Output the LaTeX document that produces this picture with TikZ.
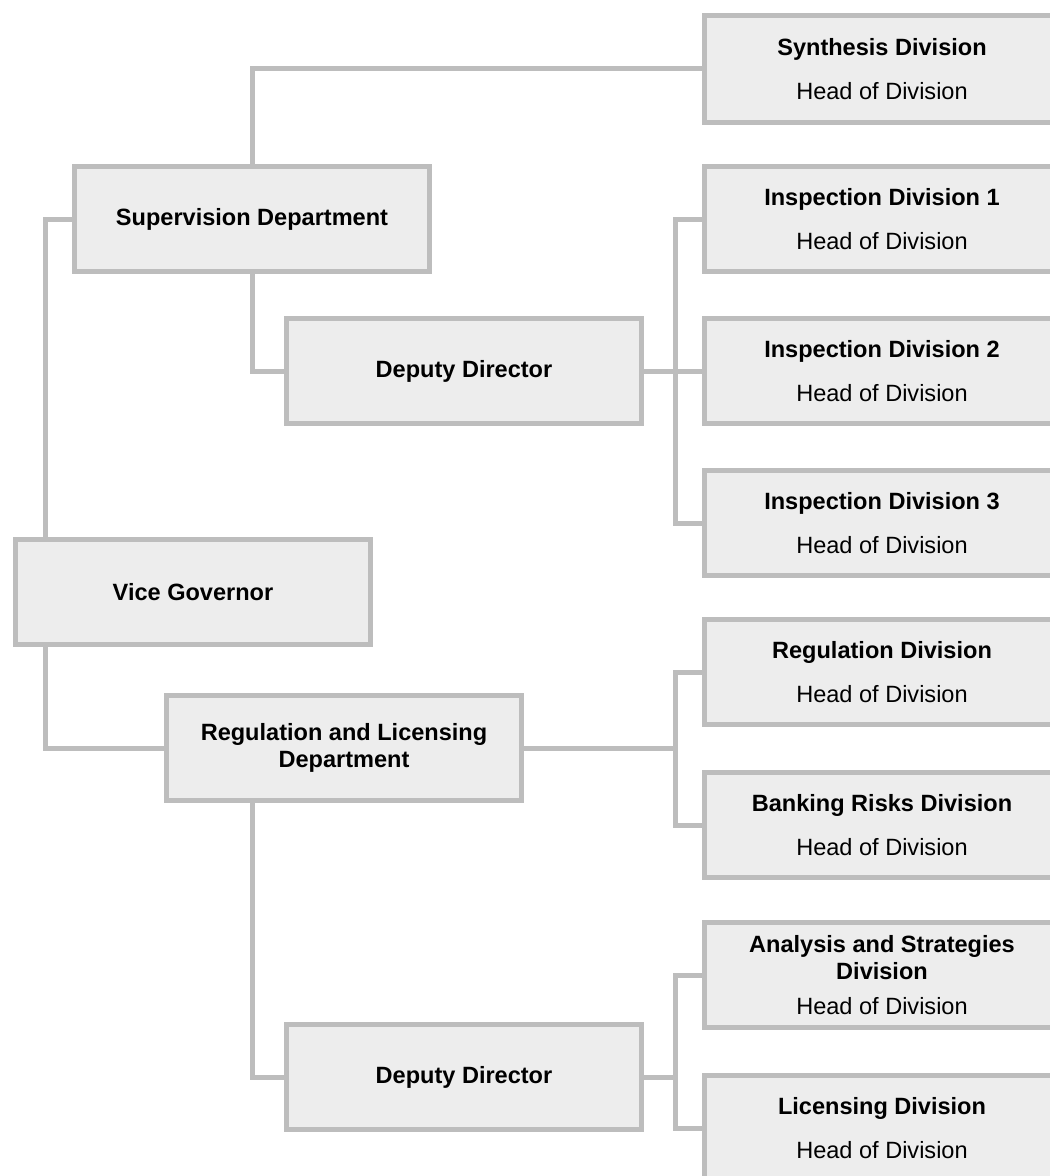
\documentclass[tikz,border=0pt]{standalone}
\usepackage{fontspec}
\setmainfont{Liberation Sans}
\usetikzlibrary{positioning}
\definecolor{boxline}{HTML}{BDBDBD}
\definecolor{boxfill}{HTML}{EDEDED}

\begin{document}
\begin{tikzpicture}[x=0.02cm,y=-0.02cm,
    box/.style={draw=boxline,fill=boxfill,line width=0.1cm,minimum width=7.1cm,
      minimum height=2.1cm,align=center,inner sep=2pt,
      font=\fontsize{13.4}{15.5}\selectfont},
    link/.style={draw=boxline,line width=0.1cm}]
    \useasboundingbox (0,0) rectangle (1050,1176);
    \clip (0,0) rectangle (1050,1176);
    % left column
    \node [box] (vice) at (193,592) {\bfseries Vice Governor};
    \node [box] (super) at (252,219) {\bfseries Supervision Department};
    \node [box] (reglic) at (344,748) {\bfseries Regulation and Licensing\\ \bfseries Department};
    \node [box] (dep1) at (464,371) {\bfseries Deputy Director};
    \node [box] (dep2) at (464,1077) {\bfseries Deputy Director};
    % divisions
    \node [box,minimum height=2.16cm] (synth) at (882,69) {{\bfseries Synthesis Division}\\[9.5pt] Head of Division};
    \node [box] (insp1) at (882,219) {{\bfseries Inspection Division 1}\\[9.5pt] Head of Division};
    \node [box] (insp2) at (882,371) {{\bfseries Inspection Division 2}\\[9.5pt] Head of Division};
    \node [box] (insp3) at (882,523) {{\bfseries Inspection Division 3}\\[9.5pt] Head of Division};
    \node [box] (regdiv) at (882,672) {{\bfseries Regulation Division}\\[9.5pt] Head of Division};
    \node [box] (bankrisk) at (882,825) {{\bfseries Banking Risks Division}\\[9.5pt] Head of Division};
    \node [box] (analysis) at (882,975) {{\bfseries Analysis and Strategies}\\ \bfseries Division\\[4.3pt] Head of Division};
    \node [box] (licdiv) at (882,1128) {{\bfseries Licensing Division}\\[9.5pt] Head of Division};
    % links
    \draw [link] ([xshift=0.64cm]vice.north west) |- (super.west);
    \draw [link] ([xshift=0.64cm]vice.south west) |- (reglic.west);
    \draw [link] (super.north) |- (synth.west);
    \draw [link] (super.south) |- (dep1.west);
    \draw [link] (reglic.south -| super.south) |- (dep2.west);
    \draw [link] (dep1.east) -- ++(0.64cm,0) coordinate (bus1);
    \draw [link] (insp1.west) -| (bus1) |- (insp3.west);
    \draw [link] (bus1) -- (insp2.west);
    \draw [link] (reglic.east) -- ++(3.04cm,0) coordinate (bus2);
    \draw [link] (regdiv.west) -| (bus2) |- (bankrisk.west);
    \draw [link] (dep2.east) -- ++(0.64cm,0) coordinate (bus3);
    \draw [link] (analysis.west) -| (bus3) |- (licdiv.west);
\end{tikzpicture}
\end{document}
